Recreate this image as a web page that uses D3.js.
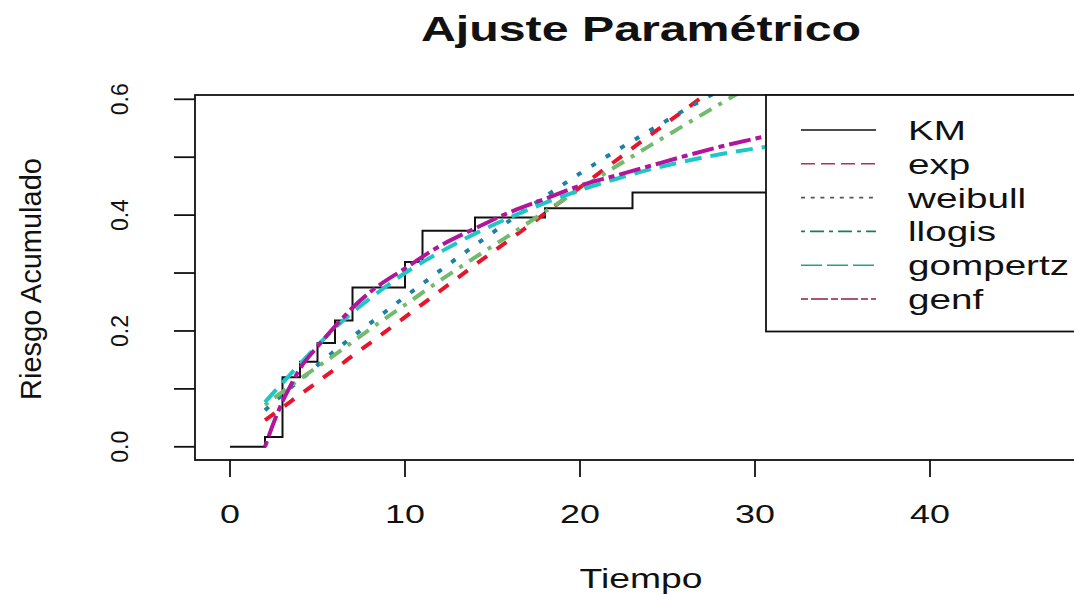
<!DOCTYPE html>
<html>
<head>
<meta charset="utf-8">
<script src="https://cdn.jsdelivr.net/npm/d3@7"></script>
<style>
  body { margin: 0; background: #fff; }
  svg { display: block; font-family: 'Liberation Sans', Arial, sans-serif; }
</style>
</head>
<body>
<div id="container"></div>
<script>
// Kaplan-Meier cumulative hazard (step function)
const kmTime = [0, 2, 3, 4, 5, 6, 7, 10, 11, 14, 18, 23, 48];
const kmHaz = [0, 0.017, 0.12, 0.147, 0.179, 0.218, 0.275, 0.319, 0.373, 0.396, 0.412, 0.439, 0.439];

// parametric fits, evaluated on a common time grid
const fitTime = [2, 2.5, 3, 3.5, 4, 5, 6, 7, 8, 10, 12, 14, 16, 18, 20, 22, 24, 26, 28, 30, 32];
const expHaz = [0.046, 0.057, 0.068, 0.079, 0.09, 0.112, 0.134, 0.157, 0.179, 0.224, 0.269, 0.314, 0.358, 0.403, 0.448, 0.493, 0.538, 0.582, 0.627, 0.672, 0.717];
const weibullHaz = [0.063, 0.077, 0.09, 0.103, 0.115, 0.141, 0.166, 0.19, 0.213, 0.259, 0.304, 0.348, 0.391, 0.432, 0.472, 0.51, 0.546, 0.582, 0.616, 0.65, 0.683];
const llogisHaz = [0.072, 0.084, 0.095, 0.106, 0.117, 0.138, 0.159, 0.181, 0.203, 0.245, 0.287, 0.327, 0.366, 0.406, 0.445, 0.483, 0.52, 0.556, 0.592, 0.627, 0.661];
const gompertzHaz = [0.077, 0.094, 0.11, 0.127, 0.143, 0.175, 0.205, 0.232, 0.256, 0.3, 0.336, 0.368, 0.396, 0.421, 0.443, 0.462, 0.479, 0.493, 0.505, 0.515, 0.523];
const genfHaz = [0.0, 0.042, 0.078, 0.108, 0.135, 0.173, 0.208, 0.24, 0.267, 0.308, 0.347, 0.377, 0.405, 0.428, 0.451, 0.468, 0.485, 0.502, 0.518, 0.532, 0.545];

const xTicks = [0, 10, 20, 30, 40];
const yTicks = [0, 0.1, 0.2, 0.3, 0.4, 0.5, 0.6];
const yLabels = [0, 0.2, 0.4, 0.6];

const legendNames = ['KM', 'exp', 'weibull', 'llogis', 'gompertz', 'genf'];

const W = 1074, H = 594;
const plot = { left: 195, right: 1087.5, top: 95, bottom: 460 };
const sx = 1.38; // horizontal stretch of text

const svg = d3.select('#container').append('svg')
  .attr('width', W)
  .attr('height', H);

const x = d3.scaleLinear().domain([-2, 49]).range([plot.left, plot.right]);
const y = d3.scaleLinear().domain([-0.0228, 0.6074]).range([plot.bottom, plot.top]);

svg.append('defs').append('clipPath')
  .attr('id', 'plotclip')
  .append('rect')
  .attr('x', plot.left)
  .attr('y', plot.top)
  .attr('width', plot.right - plot.left)
  .attr('height', plot.bottom - plot.top);

const fits = [
  { name: 'exp', values: expHaz, color: '#e8142c', dash: '12 12' },
  { name: 'weibull', values: weibullHaz, color: '#1d80a6', dash: '5 12' },
  { name: 'llogis', values: llogisHaz, color: '#72ba6e', dash: '4 8 14 8' },
  { name: 'gompertz', values: gompertzHaz, color: '#1ec6c6', dash: '17 9' },
  { name: 'genf', values: genfHaz, color: '#b1169a', dash: '6 5 22 5' }
];

const g = svg.append('g').attr('clip-path', 'url(#plotclip)');

// KM step curve
const kmLine = d3.line()
  .x((d, i) => x(kmTime[i]))
  .y(d => y(d))
  .curve(d3.curveStepAfter);

g.append('path')
  .attr('d', kmLine(kmHaz))
  .attr('fill', 'none')
  .attr('stroke', '#111')
  .attr('stroke-width', 2);

const fitLine = d3.line()
  .x((d, i) => x(fitTime[i]))
  .y(d => y(d))
  .curve(d3.curveMonotoneX);

g.selectAll('path.fit')
  .data(fits)
  .enter()
  .append('path')
  .attr('class', 'fit')
  .attr('d', d => fitLine(d.values))
  .attr('fill', 'none')
  .attr('stroke', d => d.color)
  .attr('stroke-width', 4)
  .attr('stroke-dasharray', d => d.dash);

// box
svg.append('rect')
  .attr('x', plot.left)
  .attr('y', plot.top)
  .attr('width', plot.right - plot.left)
  .attr('height', plot.bottom - plot.top)
  .attr('fill', 'none')
  .attr('stroke', '#111')
  .attr('stroke-width', 1.8);

// x axis
svg.selectAll('line.xtick')
  .data(xTicks)
  .enter()
  .append('line')
  .attr('x1', d => x(d))
  .attr('x2', d => x(d))
  .attr('y1', plot.bottom)
  .attr('y2', plot.bottom + 17)
  .attr('stroke', '#111')
  .attr('stroke-width', 1.8);

svg.selectAll('text.xlab')
  .data(xTicks)
  .enter()
  .append('text')
  .attr('transform', d => `translate(${x(d)},${523}) scale(${sx},1)`)
  .attr('text-anchor', 'middle')
  .attr('font-size', 26)
  .attr('fill', '#111')
  .text(d => d);

// y axis
svg.selectAll('line.ytick')
  .data(yTicks)
  .enter()
  .append('line')
  .attr('x1', plot.left)
  .attr('x2', plot.left - 21)
  .attr('y1', d => y(d))
  .attr('y2', d => y(d))
  .attr('stroke', '#111')
  .attr('stroke-width', 1.8);

svg.selectAll('text.ylab')
  .data(yLabels)
  .enter()
  .append('text')
  .attr('transform', d => `translate(${128},${y(d)}) rotate(-90)`)
  .attr('text-anchor', 'middle')
  .attr('font-size', 23)
  .attr('fill', '#111')
  .text(d => d.toFixed(1));

// titles
svg.append('text')
  .attr('transform', `translate(${641},${41}) scale(${sx},1)`)
  .attr('text-anchor', 'middle')
  .attr('font-size', 35)
  .attr('font-weight', 'bold')
  .attr('fill', '#111')
  .text('Ajuste Paramétrico');

svg.append('text')
  .attr('transform', `translate(${641},${588}) scale(${sx},1)`)
  .attr('text-anchor', 'middle')
  .attr('font-size', 27)
  .attr('fill', '#111')
  .text('Tiempo');

svg.append('text')
  .attr('transform', `translate(${41},${279}) rotate(-90)`)
  .attr('text-anchor', 'middle')
  .attr('font-size', 29)
  .attr('fill', '#111')
  .text('Riesgo Acumulado');

// legend
const legendItems = [
  { color: '#111', dash: null },
  { color: '#a83552', dash: '14 6' },
  { color: '#555', dash: '4 5.7' },
  { color: '#1f7a62', dash: '4 5 14 5' },
  { color: '#1fa876', dash: '21 5' },
  { color: '#8e1f45', dash: '7 3 17 3' }
];

const legend = svg.append('g');

legend.append('rect')
  .attr('x', 766)
  .attr('y', plot.top)
  .attr('width', plot.right - 766)
  .attr('height', 331.5 - plot.top)
  .attr('fill', '#fff')
  .attr('stroke', '#111')
  .attr('stroke-width', 1.8);

const rowY = i => 130 + i * 33.8;

legend.selectAll('line.key')
  .data(legendItems)
  .enter()
  .append('line')
  .attr('x1', 801)
  .attr('x2', 876)
  .attr('y1', (d, i) => rowY(i))
  .attr('y2', (d, i) => rowY(i))
  .attr('stroke', d => d.color)
  .attr('stroke-width', 1.6)
  .attr('stroke-dasharray', d => d.dash);

legend.selectAll('text.key')
  .data(legendNames)
  .enter()
  .append('text')
  .attr('transform', (d, i) => `translate(${908},${rowY(i) + 10}) scale(${sx},1)`)
  .attr('font-size', 28)
  .attr('fill', '#111')
  .text(d => d);
</script>
</body>
</html>
